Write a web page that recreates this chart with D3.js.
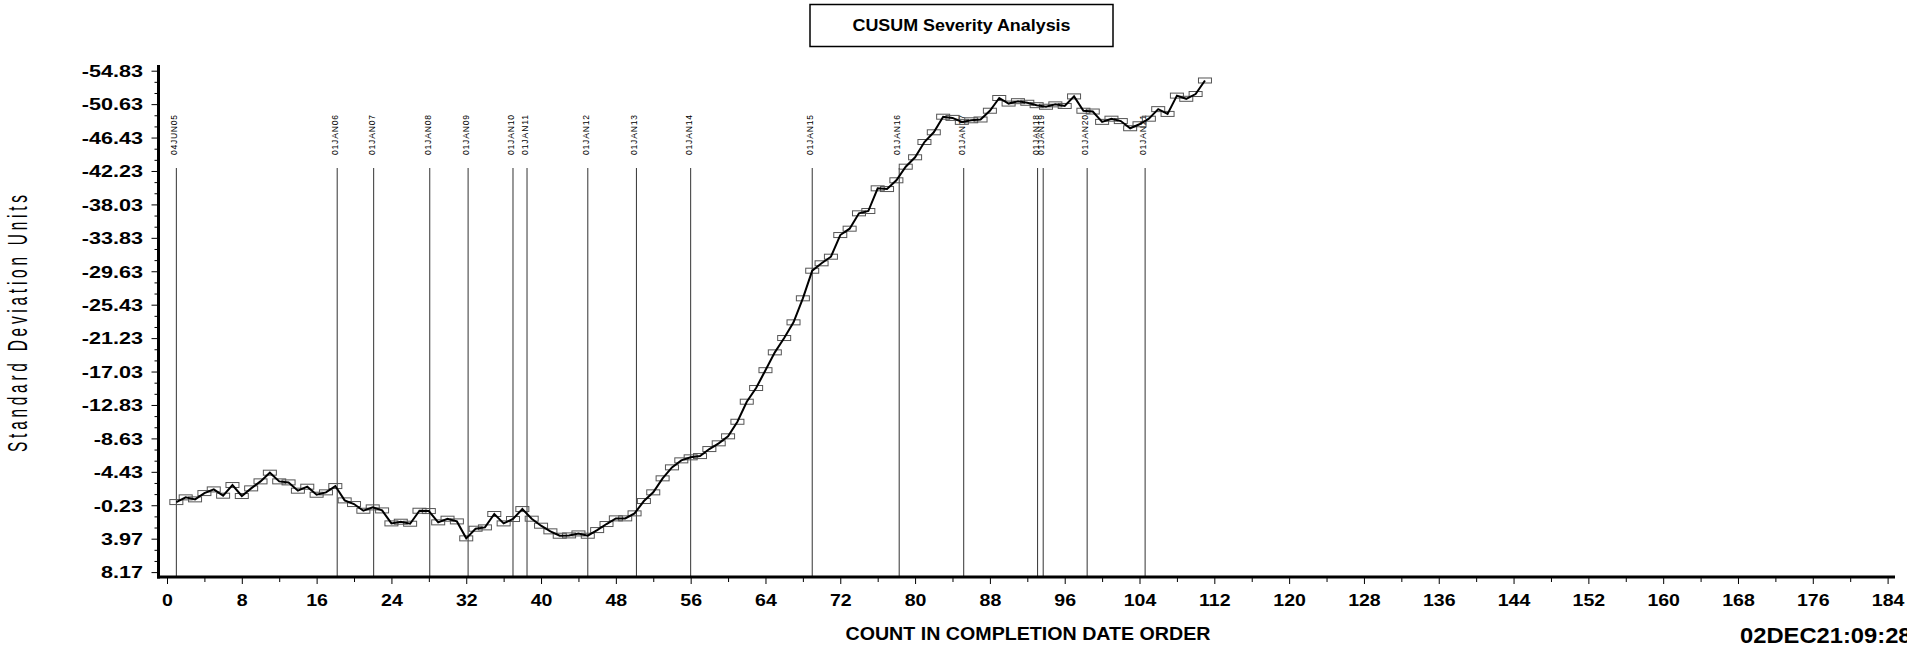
<!DOCTYPE html>
<html><head><meta charset="utf-8">
<script src="https://cdn.jsdelivr.net/npm/d3@7/dist/d3.min.js"></script>
<style>
body{margin:0;background:#fff;overflow:hidden}
svg{display:block}
text{font-family:"Liberation Sans",Arial,sans-serif}
</style>
</head><body>
<svg id="c" width="1907" height="649"></svg>
<script>
// ---- data ----
const counts = d3.range(1, 112);
const cusum = [
 -0.63,-1.22,-0.97,-1.76,-2.22,-1.43,-2.77,-1.39,-2.35,-3.23,
 -4.32,-3.23,-3.10,-2.06,-2.56,-1.55,-1.85,-2.64,-0.84,-0.38,
 0.46,0.04,0.42,2.05,1.84,2.09,0.46,0.50,1.92,1.46,
 1.80,3.93,2.72,2.55,0.87,2.05,1.50,0.25,1.46,2.34,
 3.05,3.60,3.56,3.31,3.60,2.89,2.13,1.42,1.42,0.79,
 -0.76,-1.85,-3.61,-4.99,-5.87,-6.25,-6.41,-7.29,-8.01,-8.89,
 -10.72,-13.24,-14.96,-17.20,-19.44,-21.24,-23.21,-26.23,-29.70,-30.63,
 -31.46,-34.18,-34.98,-36.91,-37.20,-40.05,-39.96,-41.06,-42.77,-43.95,
 -45.87,-47.09,-49.05,-48.90,-48.40,-48.60,-48.70,-49.80,-51.40,-50.70,
 -51.00,-50.80,-50.50,-50.30,-50.60,-50.40,-51.60,-49.80,-49.70,-48.40,
 -48.80,-48.50,-47.60,-48.10,-48.80,-50.00,-49.40,-51.70,-51.30,-51.90,
 -53.60
];
const refLineCounts = [1.0,18.2,22.1,28.1,32.2,37.0,38.5,45.0,50.2,56.0,69.0,78.3,85.2,93.1,93.7,98.4,104.6];
const refLineLabels = ["04JUN05","01JAN06","01JAN07","01JAN08","01JAN09","01JAN10","01JAN11","01JAN12","01JAN13","01JAN14","01JAN15","01JAN16","01JAN17","01JAN18","01JAN19","01JAN20","01JAN21"];
const yTickValues = [-54.83,-50.63,-46.43,-42.23,-38.03,-33.83,-29.63,-25.43,-21.23,-17.03,-12.83,-8.63,-4.43,-0.23,3.97,8.17];
const yTickLabels = ["-54.83","-50.63","-46.43","-42.23","-38.03","-33.83","-29.63","-25.43","-21.23","-17.03","-12.83","-8.63","-4.43","-0.23","3.97","8.17"];
const xTickValues = d3.range(0, 185, 8);
const titleText = "CUSUM Severity Analysis";
const yTitle = "Standard Deviation Units";
const xTitle = "COUNT IN COMPLETION DATE ORDER";
const stamp = "02DEC21:09:28";

// ---- layout ----
const svg = d3.select("#c");
const x = d3.scaleLinear().domain([0, 184]).range([167, 1887.6]);
const y = d3.scaleLinear().domain([-54.83, 8.17]).range([70.7, 572.1]);
const axisX0 = 158.5, axisY0 = 577;

// title box
svg.append("rect").attr("x", 810).attr("y", 4.5).attr("width", 303).attr("height", 42)
  .attr("fill", "none").attr("stroke", "#000").attr("stroke-width", 1.5);
svg.append("text").attr("x", 961.5).attr("y", 30.7).attr("text-anchor", "middle")
  .attr("font-size", 16).attr("font-weight", "bold")
  .attr("textLength", 218).attr("lengthAdjust", "spacingAndGlyphs").text(titleText);

// reference lines
const refG = svg.append("g");
refLineCounts.forEach((c, i) => {
  const px = x(c);
  refG.append("line").attr("x1", px).attr("x2", px).attr("y1", 168).attr("y2", axisY0)
    .attr("stroke", "#333").attr("stroke-width", 1);
  refG.append("text").attr("transform", `translate(${px + 1},155) rotate(-90)`)
    .attr("font-size", 8.5).attr("textLength", 40).attr("lengthAdjust", "spacing")
    .attr("fill", "#000").text(refLineLabels[i]);
});

// y axis
const yMinor = [];
for (let i = 0; i < yTickValues.length - 1; i++) {
  const a = yTickValues[i], b = yTickValues[i + 1];
  yMinor.push(a + (b - a) / 3, a + 2 * (b - a) / 3);
}
svg.append("g").attr("transform", `translate(${axisX0},0)`)
  .call(d3.axisLeft(y).tickValues(yMinor).tickSize(4).tickFormat(""))
  .call(g => { g.select(".domain").remove(); g.selectAll("line").attr("stroke", "#000"); });
const yAx = svg.append("g").attr("transform", `translate(${axisX0},0)`)
  .call(d3.axisLeft(y).tickValues(yTickValues).tickSize(7).tickPadding(0)
    .tickFormat((d, i) => yTickLabels[i]));
yAx.select(".domain").remove();
yAx.selectAll("line").attr("stroke", "#000");
yAx.selectAll("text").each(function () {
  d3.select(this).attr("x", null).attr("dy", null)
   .attr("transform", `translate(-15.5,5.8) scale(1.35,1)`)
   .attr("font-size", 16).attr("font-weight", "bold").attr("fill", "#000")
   .attr("font-family", "Liberation Sans, Arial, sans-serif").attr("text-anchor", "end");
});
svg.append("line").attr("x1", axisX0).attr("x2", axisX0).attr("y1", 65).attr("y2", axisY0 + 1.5)
  .attr("stroke", "#000").attr("stroke-width", 3);

// x axis
const xMinor = d3.range(4, 185, 8);
svg.append("g").attr("transform", `translate(0,${axisY0})`)
  .call(d3.axisBottom(x).tickValues(xMinor).tickSize(5).tickFormat(""))
  .call(g => { g.select(".domain").remove(); g.selectAll("line").attr("stroke", "#000"); });
const xAx = svg.append("g").attr("transform", `translate(0,${axisY0})`)
  .call(d3.axisBottom(x).tickValues(xTickValues).tickSize(7).tickFormat(d3.format("d")));
xAx.select(".domain").remove();
xAx.selectAll("line").attr("stroke", "#000");
xAx.selectAll("text").attr("y", null).attr("dy", null)
  .attr("transform", "translate(0,29) scale(1.15,1)")
  .attr("font-size", 17).attr("font-weight", "bold").attr("fill", "#000")
  .attr("font-family", "Liberation Sans, Arial, sans-serif");
svg.append("line").attr("x1", axisX0 - 1.5).attr("x2", 1895).attr("y1", axisY0).attr("y2", axisY0)
  .attr("stroke", "#000").attr("stroke-width", 3);

// axis titles
svg.append("text").attr("transform", "translate(27,323.5) rotate(-90) scale(0.55,1)")
  .attr("text-anchor", "middle").attr("font-size", 28)
  .attr("textLength", 467).attr("lengthAdjust", "spacing").text(yTitle);
svg.append("text").attr("x", 1028).attr("y", 640).attr("text-anchor", "middle")
  .attr("font-size", 18).attr("font-weight", "bold")
  .attr("textLength", 365).attr("lengthAdjust", "spacingAndGlyphs").text(xTitle);
svg.append("text").attr("transform", "translate(1740,643) scale(1.08,1)")
  .attr("font-size", 22).attr("font-weight", "bold").text(stamp);

// data
const pts = counts.map((c, i) => [c, cusum[i]]);
svg.append("g").selectAll("rect").data(pts).join("rect")
  .attr("x", d => x(d[0]) - 6.5).attr("y", d => y(d[1]) - 2.5)
  .attr("width", 13).attr("height", 5)
  .attr("fill", "none").attr("stroke", "#555").attr("stroke-width", 1);
svg.append("path").datum(pts)
  .attr("d", d3.line().x(d => x(d[0])).y(d => y(d[1])))
  .attr("fill", "none").attr("stroke", "#000").attr("stroke-width", 2);
</script>
</body></html>
